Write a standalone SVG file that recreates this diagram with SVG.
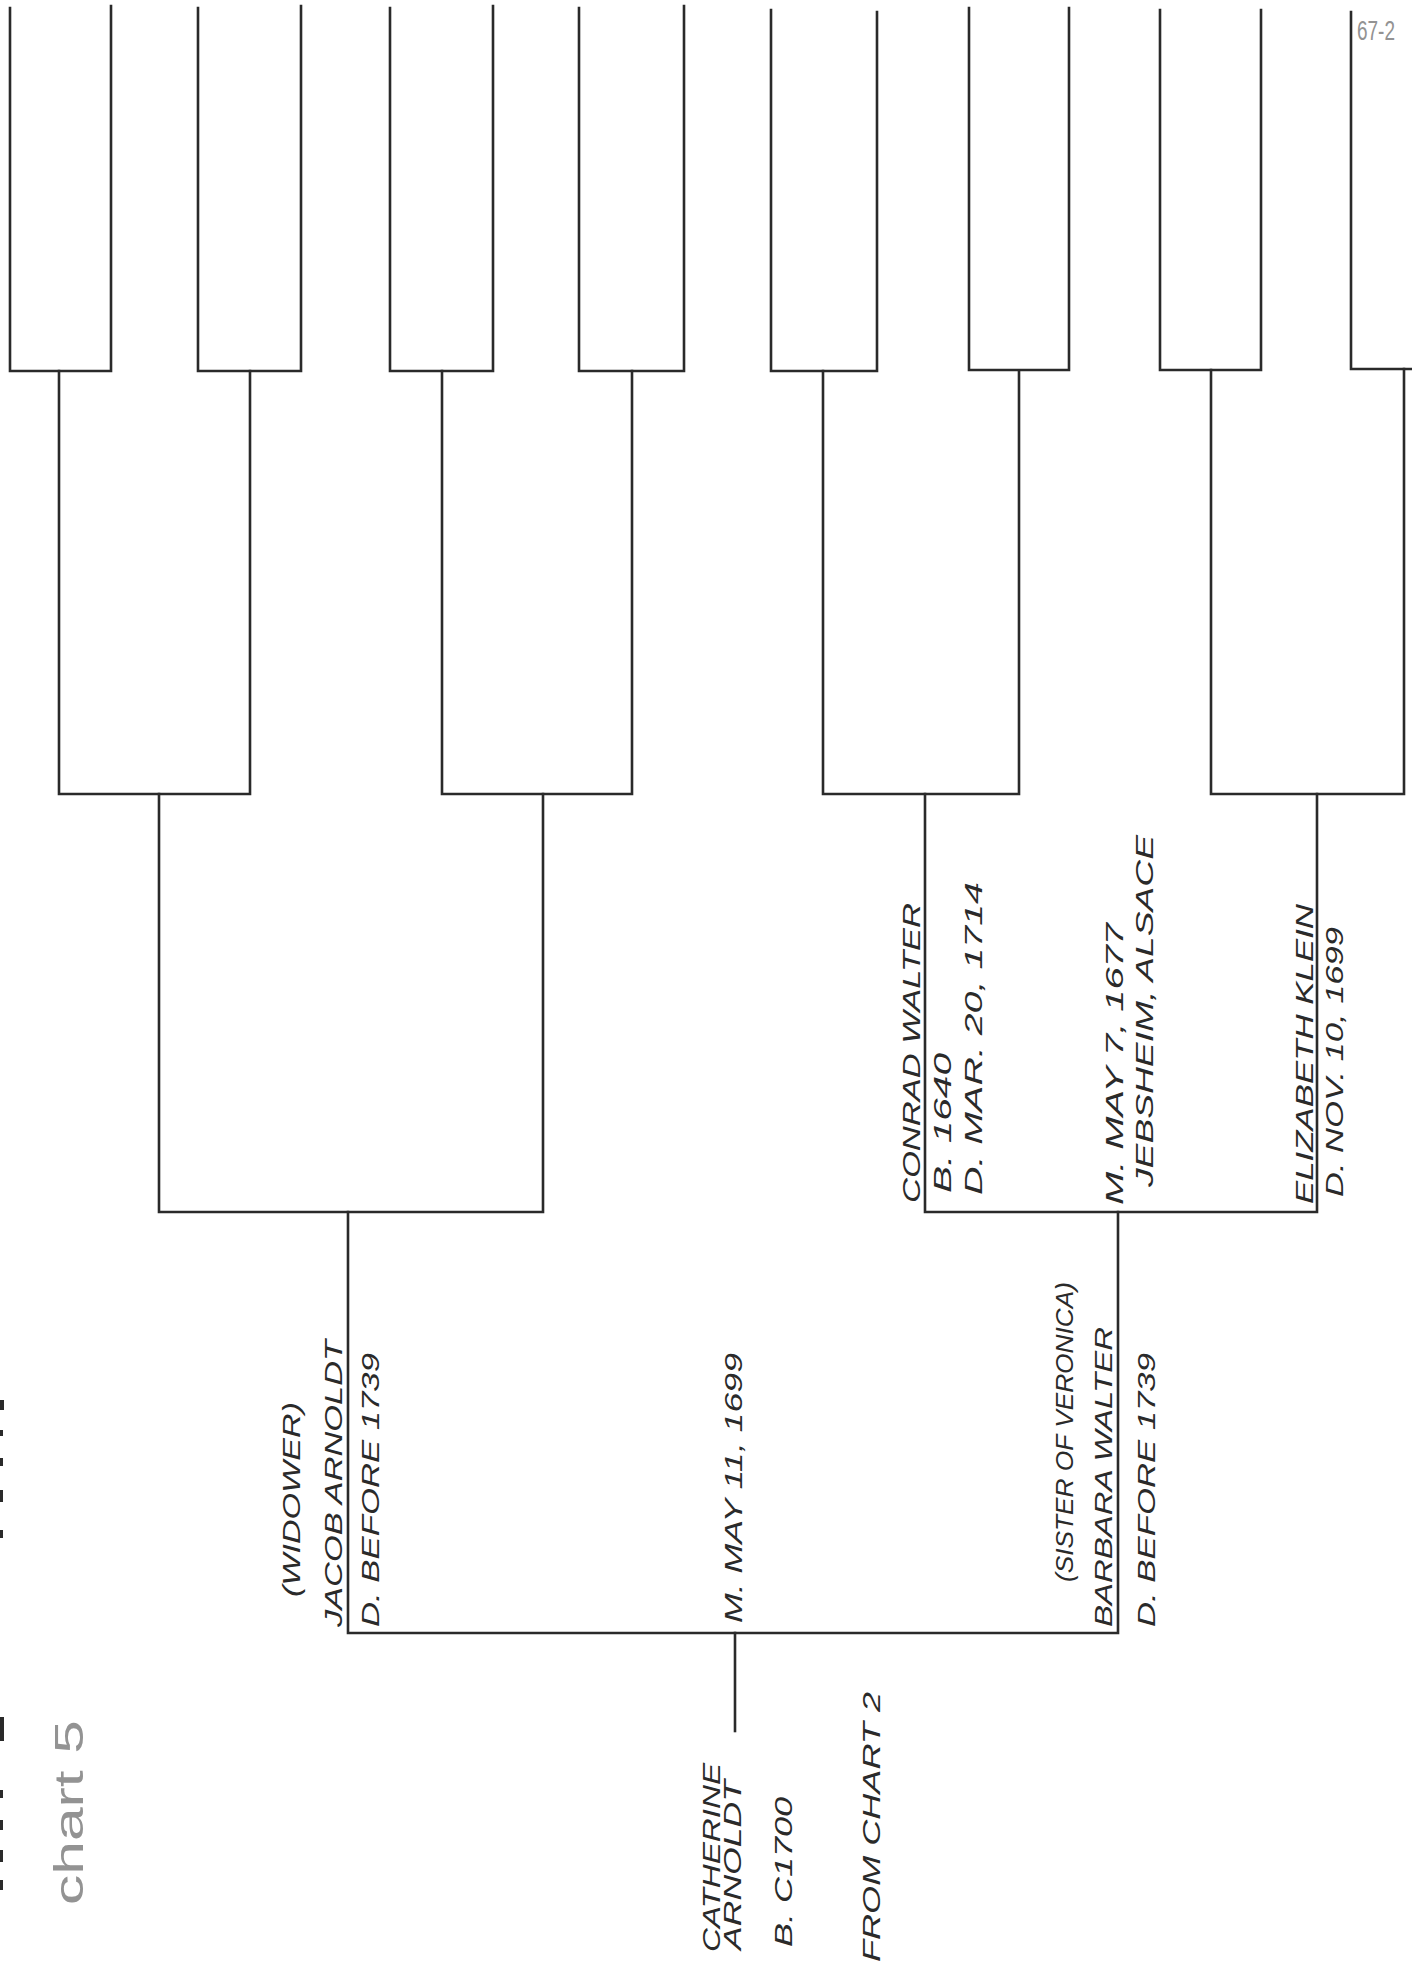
<svg xmlns="http://www.w3.org/2000/svg" width="1412" height="1967" viewBox="0 0 1412 1967">
<style>
.ln{fill:none;stroke:#2a2a2a;stroke-width:2.6;stroke-linejoin:miter;stroke-linecap:square}
.hw{font-family:"Liberation Sans",Arial,sans-serif;font-style:italic;font-size:23px;fill:#2a2a2a}
.pencil{font-family:"Liberation Sans",Arial,sans-serif;fill:#939393}
.edge{fill:#2a2a2a}
</style>
<rect width="1412" height="1967" fill="#ffffff"/>
<g id="connectors">
  <path class="ln" d="M10 8 V371 H111 V6"/>
  <path class="ln" d="M198 8 V371 H301 V6"/>
  <path class="ln" d="M390 8 V371 H493 V6"/>
  <path class="ln" d="M579 8 V371 H684 V6"/>
  <path class="ln" d="M771 10 V371 H877 V12"/>
  <path class="ln" d="M969 8 V370 H1069 V8"/>
  <path class="ln" d="M1160 10 V370 H1261 V10"/>
  <path class="ln" d="M1351 12 V369 H1414"/>
  <path class="ln" d="M59 371 V794 H250 V371"/>
  <path class="ln" d="M442 371 V794 H632 V371"/>
  <path class="ln" d="M823 371 V794 H1019 V371"/>
  <path class="ln" d="M1211 370 V794 H1404 V369"/>
  <path class="ln" d="M159 794 V1212 H543 V794"/>
  <path class="ln" d="M925 794 V1212 H1317 V794"/>
  <path class="ln" d="M348 1212 V1633 H1118 V1212"/>
  <path class="ln" d="M735 1633 V1731"/>
</g>
<g id="node-jacob">
  <text class="hw" transform="translate(300,1597) rotate(-90)" textLength="195" lengthAdjust="spacingAndGlyphs">(WIDOWER)</text>
  <text class="hw" transform="translate(342,1627) rotate(-90)" textLength="287" lengthAdjust="spacingAndGlyphs">JACOB ARNOLDT</text>
  <text class="hw" transform="translate(379,1627) rotate(-90)" textLength="274" lengthAdjust="spacingAndGlyphs">D. BEFORE 1739</text>
</g>
<g id="node-marriage-1699">
  <text class="hw" transform="translate(742,1623) rotate(-90)" textLength="270" lengthAdjust="spacingAndGlyphs">M. MAY 11, 1699</text>
</g>
<g id="node-barbara">
  <text class="hw" transform="translate(1073,1582) rotate(-90)" textLength="300" lengthAdjust="spacingAndGlyphs">(SISTER OF VERONICA)</text>
  <text class="hw" transform="translate(1112,1627) rotate(-90)" textLength="300" lengthAdjust="spacingAndGlyphs">BARBARA WALTER</text>
  <text class="hw" transform="translate(1155,1627) rotate(-90)" textLength="274" lengthAdjust="spacingAndGlyphs">D. BEFORE 1739</text>
</g>
<g id="node-conrad">
  <text class="hw" transform="translate(920,1203) rotate(-90)" textLength="300" lengthAdjust="spacingAndGlyphs">CONRAD WALTER</text>
  <text class="hw" transform="translate(951,1193) rotate(-90)" textLength="140" lengthAdjust="spacingAndGlyphs">B.  1640</text>
  <text class="hw" transform="translate(982,1195) rotate(-90)" textLength="313" lengthAdjust="spacingAndGlyphs">D. MAR. 20, 1714</text>
</g>
<g id="node-marriage-1677">
  <text class="hw" transform="translate(1123,1205) rotate(-90)" textLength="282" lengthAdjust="spacingAndGlyphs">M. MAY 7, 1677</text>
  <text class="hw" transform="translate(1153,1187) rotate(-90)" textLength="352" lengthAdjust="spacingAndGlyphs">JEBSHEIM, ALSACE</text>
</g>
<g id="node-elizabeth">
  <text class="hw" transform="translate(1313,1204) rotate(-90)" textLength="300" lengthAdjust="spacingAndGlyphs">ELIZABETH KLEIN</text>
  <text class="hw" transform="translate(1343,1197) rotate(-90)" textLength="270" lengthAdjust="spacingAndGlyphs">D. NOV. 10, 1699</text>
</g>
<g id="node-catherine">
  <text class="hw" transform="translate(720,1952) rotate(-90)" textLength="189" lengthAdjust="spacingAndGlyphs">CATHERINE</text>
  <text class="hw" transform="translate(741,1950) rotate(-90)" textLength="170" lengthAdjust="spacingAndGlyphs">ARNOLDT</text>
  <text class="hw" transform="translate(792,1947) rotate(-90)" textLength="150" lengthAdjust="spacingAndGlyphs">B. C1700</text>
  <text class="hw" transform="translate(880,1962) rotate(-90)" textLength="270" lengthAdjust="spacingAndGlyphs">FROM CHART 2</text>
</g>
<g id="annotations">
  <text class="pencil" font-size="40" transform="translate(83,1905) rotate(-90)" textLength="185" lengthAdjust="spacingAndGlyphs">chart 5</text>
  <text class="pencil" font-size="27" x="1357" y="40" fill="#7a7a7a" textLength="38" lengthAdjust="spacingAndGlyphs">67-2</text>
</g>
<g id="edge-marks">
  <rect class="edge" x="0" y="1400" width="4" height="10"/>
  <rect class="edge" x="0" y="1430" width="3" height="6"/>
  <rect class="edge" x="0" y="1458" width="3" height="8"/>
  <rect class="edge" x="0" y="1490" width="3" height="12"/>
  <rect class="edge" x="0" y="1530" width="3" height="8"/>
  <rect class="edge" x="0" y="1717" width="4" height="24"/>
  <rect class="edge" x="0" y="1790" width="3" height="8"/>
  <rect class="edge" x="0" y="1820" width="3" height="10"/>
  <rect class="edge" x="0" y="1850" width="3" height="12"/>
  <rect class="edge" x="0" y="1880" width="3" height="10"/>
</g>
</svg>
